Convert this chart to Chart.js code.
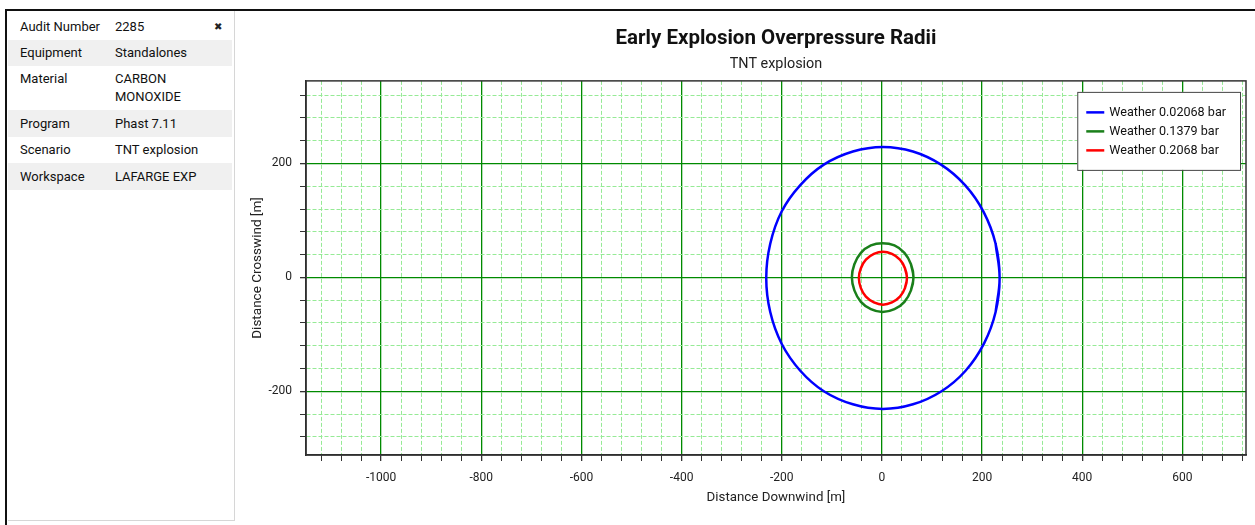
<!DOCTYPE html>
<html>
<head>
<meta charset="utf-8">
<title>Early Explosion Overpressure Radii</title>
<script src="https://cdn.jsdelivr.net/npm/chart.js@4.4.1/dist/chart.umd.min.js"></script>
<style>
  html, body { margin: 0; padding: 0; background: #fff; }
  body { width: 1255px; height: 525px; position: relative; overflow: hidden; font-family: Roboto, "Noto Sans", sans-serif; }
  #topline { position: absolute; left: 5px; top: 9px; width: 1250px; height: 2px; background: #111; }
  #leftline { position: absolute; left: 5px; top: 9px; width: 2px; height: 516px; background: #111; }
  #panel { position: absolute; left: 8px; top: 11px; width: 226px; height: 509px; border-right: 1px solid #d6d6d6; border-bottom: 1px solid #d6d6d6; }
  .row { position: absolute; left: 0; width: 224px; font-size: 13px; color: #111; line-height: 26px; }
  .row.alt { background: #f0f0f0; }
  .k { position: absolute; left: 12px; }
  .v { position: absolute; left: 107px; }
  .x { position: absolute; left: 206px; font-family: "DejaVu Sans", sans-serif; font-size: 10px; color: #222; }
  #wrap { position: absolute; left: 240px; top: 12px; width: 1015px; height: 510px; }
</style>
</head>
<body>
<div id="topline"></div>
<div id="leftline"></div>
<div id="panel">
  <div class="row" style="top:3px;height:26px"><span class="k">Audit Number</span><span class="v">2285</span><span class="x">✖</span></div>
  <div class="row alt" style="top:29px;height:26px"><span class="k">Equipment</span><span class="v">Standalones</span></div>
  <div class="row" style="top:55px;height:44px;line-height:18px"><span class="k" style="top:4px">Material</span><span class="v" style="top:4px">CARBON<br>MONOXIDE</span></div>
  <div class="row alt" style="top:99px;height:27px;line-height:27px"><span class="k">Program</span><span class="v">Phast 7.11</span></div>
  <div class="row" style="top:126px;height:26px"><span class="k">Scenario</span><span class="v">TNT explosion</span></div>
  <div class="row alt" style="top:152px;height:27px;line-height:27px"><span class="k">Workspace</span><span class="v">LAFARGE EXP</span></div>
</div>
<div id="wrap"><canvas id="chart"></canvas></div>
<script>
var seriesLabels = ["Weather 0.02068 bar", "Weather 0.1379 bar", "Weather 0.2068 bar"];

// contour points [downwind, crosswind] in metres
var contourLow = [
  [235, -1], [227, 59], [203, 115], [166, 162], [118, 198], [62, 221], [2, 229],
  [-58, 221], [-116, 198], [-163, 162], [-200, 116], [-223, 59], [-231, -1],
  [-223, -61], [-200, -117], [-163, -164], [-116, -200], [-58, -223], [2, -231],
  [62, -223], [119, -200], [167, -164], [204, -116], [227, -61], [235, -1]
];
var contourMid = [
  [63, 0], [58, 23], [45, 43], [25, 56], [1, 60], [-22, 56], [-42, 43], [-55, 23],
  [-60, 0], [-55, -23], [-42, -43], [-22, -56], [1, -61], [25, -56], [45, -43], [58, -23],
  [63, 0]
];
var contourHigh = [
  [50, -1], [46, 16], [36, 31], [20, 41], [2, 45], [-16, 41], [-32, 31], [-42, 16],
  [-46, -1], [-42, -19], [-32, -34], [-16, -44], [2, -48], [20, -44], [36, -34], [46, -19],
  [50, -1]
];

var xTickLabels = [-1000, -800, -600, -400, -200, 0, 200, 400, 600];
var yTickLabels = [-200, 0, 200];

// closed contour -> points, with one neighbour added at each end so the spline closes smoothly
function toPoints(arr) {
  var ring = [arr[arr.length - 2]].concat(arr, [arr[1]]);
  return ring.map(function (p) { return { x: p[0], y: p[1] }; });
}

function gridTicks(scale) {
  var ticks = [];
  for (var v = Math.ceil(scale.min / 40) * 40; v <= scale.max; v += 40) {
    ticks.push({ value: v });
  }
  scale.ticks = ticks;
}

var isMajor = function (ctx) { return ctx.tick && ctx.tick.value % 200 === 0; };

var gridOpts = {
  color: function (ctx) { return isMajor(ctx) ? "#008a00" : "#96ea96"; },
  lineWidth: function (ctx) { return isMajor(ctx) ? 1.3 : 1; },
  tickColor: "#333",
  tickLength: 6,
};
var borderOpts = {
  color: "#222",
  width: 1.5,
  dash: function (ctx) { return ctx.tick && !isMajor(ctx) ? [4, 2] : []; },
};

// box round the plot and the legend panel in its top right corner
var frameAndLegend = {
  id: "frameAndLegend",
  afterDatasetsDraw: function (chart) {
    var ctx = chart.ctx;
    var area = chart.chartArea;
    ctx.save();
    ctx.strokeStyle = "#333";
    ctx.lineWidth = 1.5;
    ctx.strokeRect(area.left, area.top, area.right - area.left, area.bottom - area.top);

    ctx.font = "12.6px Roboto";
    var sets = chart.data.datasets;
    var textW = Math.max.apply(null, sets.map(function (d) { return ctx.measureText(d.label).width; }));
    var w = 32 + textW + 14;
    var h = 78;
    var x = area.right - 6 - w;
    var y = area.top + 11;
    ctx.fillStyle = "#fff";
    ctx.fillRect(x, y, w, h);
    ctx.strokeStyle = "#444";
    ctx.lineWidth = 1;
    ctx.strokeRect(x + 0.5, y + 0.5, w, h);
    sets.forEach(function (d, i) {
      var cy = y + 20.5 + i * 19;
      ctx.strokeStyle = d.borderColor;
      ctx.lineWidth = 2.5;
      ctx.beginPath();
      ctx.moveTo(x + 9, cy);
      ctx.lineTo(x + 27, cy);
      ctx.stroke();
      ctx.fillStyle = "#111";
      ctx.textBaseline = "middle";
      ctx.fillText(d.label, x + 32, cy);
    });
    ctx.restore();
  },
};

var lineStyle = { showLine: true, borderWidth: 2.5, tension: 0.4, fill: false, pointRadius: 0, pointHoverRadius: 0 };

var config = {
  type: "scatter",
  data: {
    datasets: [
      Object.assign({ label: seriesLabels[0], data: toPoints(contourLow), borderColor: "#0000ff" }, lineStyle),
      Object.assign({ label: seriesLabels[1], data: toPoints(contourMid), borderColor: "#1a7f1a" }, lineStyle),
      Object.assign({ label: seriesLabels[2], data: toPoints(contourHigh), borderColor: "#ff0000" }, lineStyle),
    ],
  },
  options: {
    responsive: true,
    maintainAspectRatio: false,
    animation: false,
    layout: { padding: { left: 4, right: 9, top: 11, bottom: 10 } },
    plugins: {
      legend: { display: false },
      tooltip: { enabled: false },
      title: {
        display: true,
        text: "Early Explosion Overpressure Radii",
        fullSize: false,
        color: "#111",
        font: { family: "Roboto", size: 20.5, weight: "bold" },
        padding: { top: 4, bottom: 0 },
      },
      subtitle: {
        display: true,
        text: "TNT explosion",
        fullSize: false,
        color: "#222",
        font: { family: "Roboto", size: 14.4 },
        padding: { top: 4, bottom: 8 },
      },
    },
    scales: {
      x: {
        type: "linear",
        min: -1150,
        max: 727,
        afterBuildTicks: gridTicks,
        afterFit: function (scale) { scale.height = 57; },
        grid: gridOpts,
        border: borderOpts,
        ticks: {
          autoSkip: false,
          maxRotation: 0,
          padding: 10,
          color: "#222",
          font: { family: "Roboto", size: 12 },
          callback: function (v) { return xTickLabels.indexOf(v) >= 0 ? String(v) : ""; },
        },
        title: {
          display: true,
          text: "Distance Downwind [m]",
          color: "#222",
          font: { family: "Roboto", size: 13.3 },
          padding: { top: 0, bottom: 6 },
        },
      },
      y: {
        type: "linear",
        min: -312,
        max: 345,
        afterBuildTicks: gridTicks,
        afterFit: function (scale) { scale.width = 62; },
        grid: gridOpts,
        border: borderOpts,
        ticks: {
          autoSkip: false,
          padding: 8,
          color: "#222",
          font: { family: "Roboto", size: 12 },
          callback: function (v) { return yTickLabels.indexOf(v) >= 0 ? String(v) : ""; },
        },
        title: {
          display: true,
          text: "Distance Crosswind [m]",
          color: "#222",
          font: { family: "Roboto", size: 13.5 },
          padding: { top: 6, bottom: 0 },
        },
      },
    },
  },
  plugins: [frameAndLegend],
};

var ctxOne = document.getElementById("chart").getContext("2d");
new Chart(ctxOne, config);
</script>
</body>
</html>
